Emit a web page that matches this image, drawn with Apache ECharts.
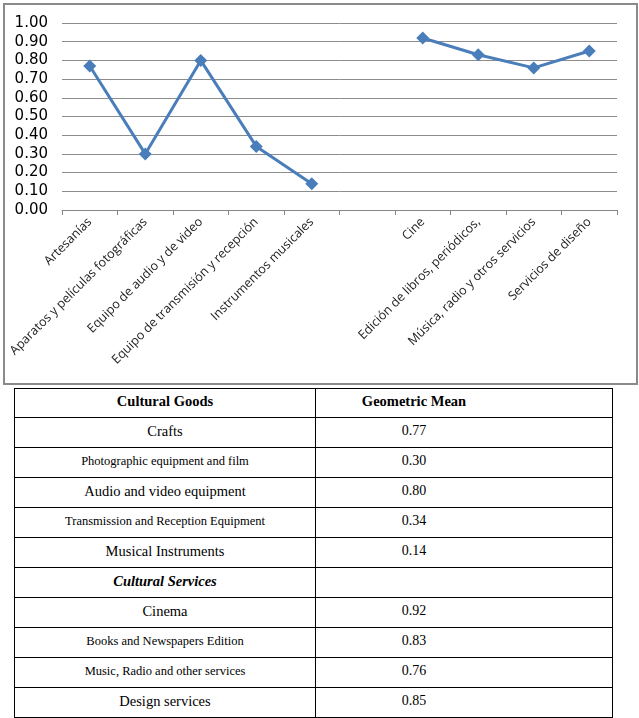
<!DOCTYPE html>
<html>
<head>
<meta charset="utf-8">
<script src="https://cdn.jsdelivr.net/npm/echarts@6/dist/echarts.min.js"></script>
<style>
  html, body { margin: 0; padding: 0; background: #fff; }
  #wrap { position: relative; width: 639px; height: 718px; overflow: hidden; }
  #frame { position: absolute; left: 3px; top: 3px; width: 631px; height: 378px; border: 2px solid #8a8a8a; }
  #chart { position: absolute; left: 0; top: 0; width: 639px; height: 388px; }
  table { position: absolute; left: 14px; top: 388px; width: 598px; border-collapse: collapse; table-layout: fixed;
          font-family: "Times New Roman", Times, "Liberation Serif", serif; color: #000; }
  td, th { font-family: "Times New Roman", Times, "Liberation Serif", serif; border: 1px solid #000; text-align: center;
           height: 30px; padding: 0 0 4px 0; box-sizing: border-box; font-weight: normal; font-size: 14.5px; line-height: 16px; }
  th { font-weight: bold; height: 29px; }
  td.small { font-size: 12.5px; }
  td.sec { font-weight: bold; font-style: italic; }
  td.val, th.val, td.empty { font-size: 14px; padding-right: 100px; }
</style>
</head>
<body>
<div id="wrap">
  <div id="frame"></div>
  <div id="chart"></div>
  <table id="tbl"></table>
</div>
<script>
// Chart data (Spanish category labels, empty slot separates goods and services)
const categories = ["Artesanías", "Aparatos y películas fotográficas", "Equipo de audio y de video",
  "Equipo de transmisión y recepción", "Instrumentos musicales", "",
  "Cine", "Edición de libros, periódicos,", "Música, radio y otros servicios", "Servicios de diseño"];
const values = [0.77, 0.30, 0.80, 0.34, 0.14, null, 0.92, 0.83, 0.76, 0.85];
const yTicks = [0, 0.1, 0.2, 0.3, 0.4, 0.5, 0.6, 0.7, 0.8, 0.9, 1.0];

// Table data
const tableHeader = ["Cultural Goods", "Geometric Mean"];
const goodsNames = ["Crafts", "Photographic equipment and film", "Audio and video equipment",
  "Transmission and Reception Equipment", "Musical Instruments"];
const goodsSmall = [false, true, false, true, false];
const goodsValues = ["0.77", "0.30", "0.80", "0.34", "0.14"];
const servicesTitle = "Cultural Services";
const servicesNames = ["Cinema", "Books and Newspapers Edition", "Music, Radio and other services", "Design services"];
const servicesSmall = [false, true, true, false];
const servicesValues = ["0.92", "0.83", "0.76", "0.85"];

// Build table
(function () {
  const t = document.getElementById('tbl');
  let h = '<colgroup><col style="width:301px"><col style="width:297px"></colgroup>';
  h += '<tr><th>' + tableHeader[0] + '</th><th class="val" style="font-size:14.5px">' + tableHeader[1] + '</th></tr>';
  goodsNames.forEach((n, i) => {
    h += '<tr><td class="' + (goodsSmall[i] ? 'small' : '') + '">' + n + '</td><td class="val">' + goodsValues[i] + '</td></tr>';
  });
  h += '<tr><td class="sec">' + servicesTitle + '</td><td class="empty"></td></tr>';
  servicesNames.forEach((n, i) => {
    h += '<tr><td class="' + (servicesSmall[i] ? 'small' : '') + '">' + n + '</td><td class="val">' + servicesValues[i] + '</td></tr>';
  });
  t.innerHTML = h;
})();

const chart = echarts.init(document.getElementById('chart'), null, { renderer: 'canvas' });
chart.setOption({
  animation: false,
  backgroundColor: 'transparent',
  grid: { left: 62, right: 22, top: 23, bottom: 178, containLabel: false },
  xAxis: {
    type: 'category',
    data: categories,
    boundaryGap: true,
    axisLine: { show: true, lineStyle: { color: '#868686', width: 1 } },
    axisTick: { show: true, interval: 0, length: 5, lineStyle: { color: '#868686' } },
    axisLabel: { interval: 0, rotate: 45, margin: 10, fontSize: 12.5, color: '#222',
      fontFamily: '"Open Sans", "Liberation Sans", sans-serif' },
    splitLine: { show: false }
  },
  yAxis: {
    type: 'value',
    min: yTicks[0],
    max: yTicks[yTicks.length - 1],
    interval: 0.1,
    axisLine: { show: false },
    axisTick: { show: false },
    axisLabel: { margin: 14, fontSize: 15, color: '#000',
      fontFamily: '"DejaVu Sans", "Liberation Sans", sans-serif',
      formatter: v => v.toFixed(2) },
    splitLine: { show: true, lineStyle: { color: '#8c8c8c', width: 1 } }
  },
  series: [{
    type: 'line',
    data: values,
    connectNulls: false,
    symbol: 'diamond',
    symbolSize: 13,
    lineStyle: { color: '#4A7EBB', width: 3 },
    itemStyle: { color: '#4A7EBB' }
  }]
});
</script>
</body>
</html>
